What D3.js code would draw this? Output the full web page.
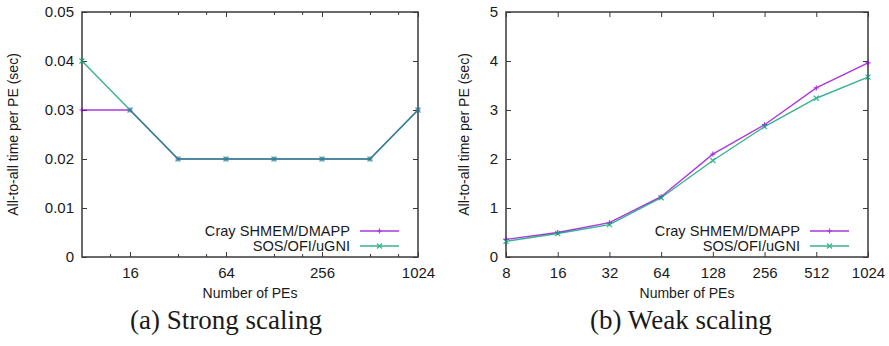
<!DOCTYPE html>
<html>
<head>
<meta charset="utf-8">
<script src="https://cdn.jsdelivr.net/npm/d3@7"></script>
<style>
  body { margin: 0; background: #fff; }
  svg text { font-family: "Liberation Sans", Arial, sans-serif; fill: #1a1a1a; }
  .caption { font-family: "Liberation Serif", "DejaVu Serif", serif; }
</style>
</head>
<body>
<div id="wrapper"></div>
<script>
// data
const pes = [8, 16, 32, 64, 128, 256, 512, 1024]
const seriesNames = ["Cray SHMEM/DMAPP", "SOS/OFI/uGNI"]

const strongCray = [0.03, 0.03, 0.02, 0.02, 0.02, 0.02, 0.02, 0.03]
const strongSos  = [0.04, 0.03, 0.02, 0.02, 0.02, 0.02, 0.02, 0.03]
const weakCray = [0.36, 0.50, 0.70, 1.23, 2.10, 2.70, 3.45, 3.96]
const weakSos  = [0.32, 0.48, 0.66, 1.21, 1.97, 2.66, 3.24, 3.67]

const strongXTicks = [16, 64, 256, 1024]
const strongXMinor = [12, 32, 48, 128, 192, 512, 768]
const strongYTicks = [0, 0.01, 0.02, 0.03, 0.04, 0.05]
const weakXTicks = [8, 16, 32, 64, 128, 256, 512, 1024]
const weakYTicks = [0, 1, 2, 3, 4, 5]

const colors = ["#9400d3", "#009e73"]

const width = 889
const height = 346

const svg = d3.select("#wrapper")
  .append("svg")
  .attr("width", width)
  .attr("height", height)

function drawPanel (opt) {
  const x = d3.scaleLog().base(2)
    .domain([8, 1024])
    .range([opt.left, opt.right])

  const y = d3.scaleLinear()
    .domain([0, opt.yMax])
    .range([257, 12])

  const g = svg.append("g")

  // bottom axis with labels, ticks pointing inward
  g.append("g")
    .attr("transform", `translate(0,${y(0)})`)
    .call(d3.axisBottom(x).tickValues(opt.xTicks).tickSize(-5).tickPadding(10).tickFormat(d3.format("d")))
  // mirrored top ticks
  g.append("g")
    .attr("transform", `translate(0,${y(opt.yMax)})`)
    .call(d3.axisTop(x).tickValues(opt.xTicks).tickSize(-5).tickFormat(""))

  if (opt.xMinor) {
    g.append("g")
      .attr("transform", `translate(0,${y(0)})`)
      .call(d3.axisBottom(x).tickValues(opt.xMinor).tickSize(-3).tickFormat(""))
    g.append("g")
      .attr("transform", `translate(0,${y(opt.yMax)})`)
      .call(d3.axisTop(x).tickValues(opt.xMinor).tickSize(-3).tickFormat(""))
  }

  g.append("g")
    .attr("transform", `translate(${opt.left},0)`)
    .call(d3.axisLeft(y).tickValues(opt.yTicks).tickSize(-5).tickPadding(8).tickFormat(opt.yFormat))
  g.append("g")
    .attr("transform", `translate(${opt.right},0)`)
    .call(d3.axisRight(y).tickValues(opt.yTicks).tickSize(-5).tickFormat(""))

  g.selectAll(".domain").remove()
  g.selectAll(".tick line").attr("stroke", "#3a3a3a").attr("stroke-width", 1)
  g.selectAll(".tick text")
    .attr("font-size", 15)
    .attr("font-family", "Liberation Sans, Arial, sans-serif")
    .attr("fill", "#1a1a1a")

  // frame
  g.append("rect")
    .attr("x", opt.left)
    .attr("y", y(opt.yMax))
    .attr("width", opt.right - opt.left)
    .attr("height", y(0) - y(opt.yMax))
    .attr("fill", "none")
    .attr("stroke", "#3a3a3a")
    .attr("stroke-width", 1.5)

  // lines and markers
  const line = d3.line()
    .x((d, i) => x(pes[i]))
    .y(d => y(d))

  opt.series.forEach((vals, s) => {
    const sg = g.append("g").attr("opacity", 0.78)
    sg.append("path")
      .attr("d", line(vals))
      .attr("fill", "none")
      .attr("stroke", colors[s])
      .attr("stroke-width", 1.4)
    sg.selectAll("path.mark")
      .data(vals)
      .join("path")
        .attr("class", "mark")
        .attr("d", (d, i) => marker(s, x(pes[i]), y(d)))
        .attr("stroke", colors[s])
        .attr("stroke-width", 1.2)
        .attr("fill", "none")
  })

  // legend
  seriesNames.forEach((name, s) => {
    const ly = 231 + s * 15
    g.append("text")
      .attr("x", opt.right - 68)
      .attr("y", ly)
      .attr("dy", "0.35em")
      .attr("text-anchor", "end")
      .attr("font-size", 14.6)
      .text(name)
    const lg = g.append("g").attr("opacity", 0.78)
    lg.append("line")
      .attr("x1", opt.right - 58)
      .attr("x2", opt.right - 19)
      .attr("y1", ly)
      .attr("y2", ly)
      .attr("stroke", colors[s])
      .attr("stroke-width", 1.4)
    lg.append("path")
      .attr("d", marker(s, opt.right - 38.5, ly))
      .attr("stroke", colors[s])
      .attr("stroke-width", 1.2)
  })

  // axis titles
  g.append("text")
    .attr("x", (opt.left + opt.right) / 2)
    .attr("y", 298)
    .attr("text-anchor", "middle")
    .attr("font-size", 14)
    .text("Number of PEs")

  g.append("text")
    .attr("transform", `translate(${opt.yLabelX},${(y(0) + y(opt.yMax)) / 2}) rotate(-90)`)
    .attr("text-anchor", "middle")
    .attr("font-size", 14)
    .text("All-to-all time per PE (sec)")

  g.append("text")
    .attr("class", "caption")
    .attr("x", opt.captionX)
    .attr("y", 329)
    .attr("text-anchor", "middle")
    .attr("font-size", 27)
    .text(opt.caption)
}

// "+" for first series, "x" for second (gnuplot point types 1 and 2)
function marker (s, cx, cy) {
  const r = 2.5
  if (s === 0) return `M${cx - r},${cy}H${cx + r}M${cx},${cy - r}V${cy + r}`
  return `M${cx - r},${cy - r}L${cx + r},${cy + r}M${cx - r},${cy + r}L${cx + r},${cy - r}`
}

drawPanel({
  left: 82, right: 418, yLabelX: 18,
  yMax: 0.05,
  xTicks: strongXTicks, xMinor: strongXMinor,
  yTicks: strongYTicks, yFormat: d => d === 0 ? "0" : d3.format(".2f")(d),
  series: [strongCray, strongSos],
  caption: "(a) Strong scaling", captionX: 226
})

drawPanel({
  left: 506, right: 868, yLabelX: 469,
  yMax: 5,
  xTicks: weakXTicks,
  yTicks: weakYTicks, yFormat: d3.format("d"),
  series: [weakCray, weakSos],
  caption: "(b) Weak scaling", captionX: 681
})
</script>
</body>
</html>
